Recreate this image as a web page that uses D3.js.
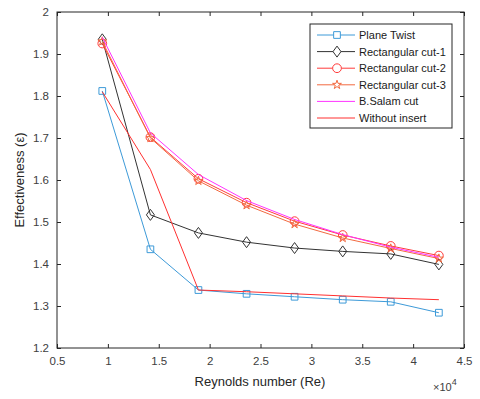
<!DOCTYPE html>
<html><head><meta charset="utf-8">
<script src="https://cdn.jsdelivr.net/npm/d3@7"></script>
<style>body{margin:0;background:#fff;} svg{display:block;font-family:Arial,"Liberation Sans",sans-serif;}</style>
</head><body><svg id="c" width="480" height="399"></svg>
<script>
const reynolds = [0.945, 1.418, 1.89, 2.363, 2.835, 3.308, 3.78, 4.253];
const planeTwist = [1.812, 1.435, 1.338, 1.329, 1.322, 1.315, 1.310, 1.284];
const rectCut1 = [1.935, 1.517, 1.474, 1.452, 1.438, 1.430, 1.424, 1.399];
const rectCut2 = [1.925, 1.702, 1.603, 1.546, 1.502, 1.469, 1.443, 1.420];
const rectCut3 = [1.930, 1.700, 1.598, 1.540, 1.495, 1.462, 1.437, 1.413];
const bSalam = [1.940, 1.712, 1.613, 1.551, 1.506, 1.470, 1.440, 1.416];
const withoutInsert = [1.810, 1.625, 1.338, 1.334, 1.329, 1.324, 1.319, 1.315];
const xTicks = [0.5, 1, 1.5, 2, 2.5, 3, 3.5, 4, 4.5];
const yTicks = [1.2, 1.3, 1.4, 1.5, 1.6, 1.7, 1.8, 1.9, 2];
const seriesNames = ["Plane Twist", "Rectangular cut-1", "Rectangular cut-2", "Rectangular cut-3", "B.Salam cut", "Without insert"];

const series = [
  {name: seriesNames[0], vals: planeTwist, color: "#3d9ad8", marker: "square"},
  {name: seriesNames[1], vals: rectCut1, color: "#333333", marker: "diamond"},
  {name: seriesNames[2], vals: rectCut2, color: "#ff3b3b", marker: "circle"},
  {name: seriesNames[3], vals: rectCut3, color: "#f26a40", marker: "star"},
  {name: seriesNames[4], vals: bSalam, color: "#ff33ff", marker: null},
  {name: seriesNames[5], vals: withoutInsert, color: "#ff3030", marker: null}
];

const svg = d3.select("#c");
const L = 57, R = 464, T = 12, B = 348;
const x = d3.scaleLinear().domain([0.5, 4.5]).range([L, R]);
const y = d3.scaleLinear().domain([1.2, 2]).range([B, T]);
const axisColor = "#262626", textColor = "#404040";

svg.append("rect").attr("x", L).attr("y", T).attr("width", R - L).attr("height", B - T).attr("fill", "#fff");

const ax = (g) => { g.select(".domain").remove(); g.selectAll(".tick line").attr("stroke", axisColor); };
svg.append("g").attr("transform", `translate(0,${B})`)
  .call(d3.axisBottom(x).tickValues(xTicks).tickSize(-4).tickPadding(9).tickFormat(d3.format("")))
  .call(ax).selectAll("text").attr("fill", textColor).style("font-size", "11.5px");
svg.append("g").attr("transform", `translate(0,${T})`)
  .call(d3.axisTop(x).tickValues(xTicks).tickSize(-4).tickFormat(""))
  .call(ax);
svg.append("g").attr("transform", `translate(${L},0)`)
  .call(d3.axisLeft(y).tickValues(yTicks).tickSize(-4).tickPadding(8).tickFormat(d3.format("")))
  .call(ax).selectAll("text").attr("fill", textColor).style("font-size", "11.5px");
svg.append("g").attr("transform", `translate(${R},0)`)
  .call(d3.axisRight(y).tickValues(yTicks).tickSize(-4).tickFormat(""))
  .call(ax);
svg.append("rect").attr("x", L).attr("y", T).attr("width", R - L).attr("height", B - T)
  .attr("fill", "none").attr("stroke", axisColor).attr("stroke-width", 1);

const symbolFor = (m) => {
  if (m === "square") return d3.symbol().type(d3.symbolSquare).size(45);
  if (m === "diamond") return () => "M0,-5.5L4,0L0,5.5L-4,0Z";
  if (m === "circle") return d3.symbol().type(d3.symbolCircle).size(60);
  if (m === "star") return d3.symbol().type(d3.symbolStar).size(24);
  return null;
};

const line = d3.line().x((d, i) => x(reynolds[i])).y(d => y(d));
const plot = svg.append("g");
series.forEach(s => {
  plot.append("path").datum(s.vals).attr("d", line).attr("fill", "none")
    .attr("stroke", s.color).attr("stroke-width", 1);
  const sym = symbolFor(s.marker);
  if (sym) {
    plot.selectAll(null).data(s.vals).enter().append("path")
      .attr("d", sym)
      .attr("transform", (d, i) => `translate(${x(reynolds[i])},${y(d)})`)
      .attr("fill", "none").attr("stroke", s.color).attr("stroke-width", 1);
  }
});

const lg = svg.append("g");
lg.append("rect").attr("x", 310).attr("y", 24).attr("width", 142).attr("height", 104)
  .attr("fill", "#fff").attr("stroke", axisColor).attr("stroke-width", 1);
series.forEach((s, i) => {
  const yy = 35 + i * 16.6;
  lg.append("line").attr("x1", 317).attr("x2", 355).attr("y1", yy).attr("y2", yy)
    .attr("stroke", s.color).attr("stroke-width", 1);
  const sym = symbolFor(s.marker);
  if (sym) {
    lg.append("path").attr("d", sym)
      .attr("transform", `translate(337,${yy})`)
      .attr("fill", "#fff").attr("stroke", s.color);
  }
  lg.append("text").attr("x", 359).attr("y", yy + 4).text(s.name)
    .attr("fill", "#1a1a1a").style("font-size", "11px");
});

svg.append("text").attr("x", 260).attr("y", 386).attr("text-anchor", "middle")
  .attr("fill", "#262626").style("font-size", "13px").text("Reynolds number (Re)");
svg.append("text").attr("transform", "translate(24,180) rotate(-90)").attr("text-anchor", "middle")
  .attr("fill", "#262626").style("font-size", "13px").text("Effectiveness (ε)");
const ex = svg.append("text").attr("x", 433).attr("y", 391).attr("fill", textColor).style("font-size", "11px");
ex.append("tspan").text("×10");
ex.append("tspan").attr("dy", -6).style("font-size", "9px").text("4");
</script></body></html>
